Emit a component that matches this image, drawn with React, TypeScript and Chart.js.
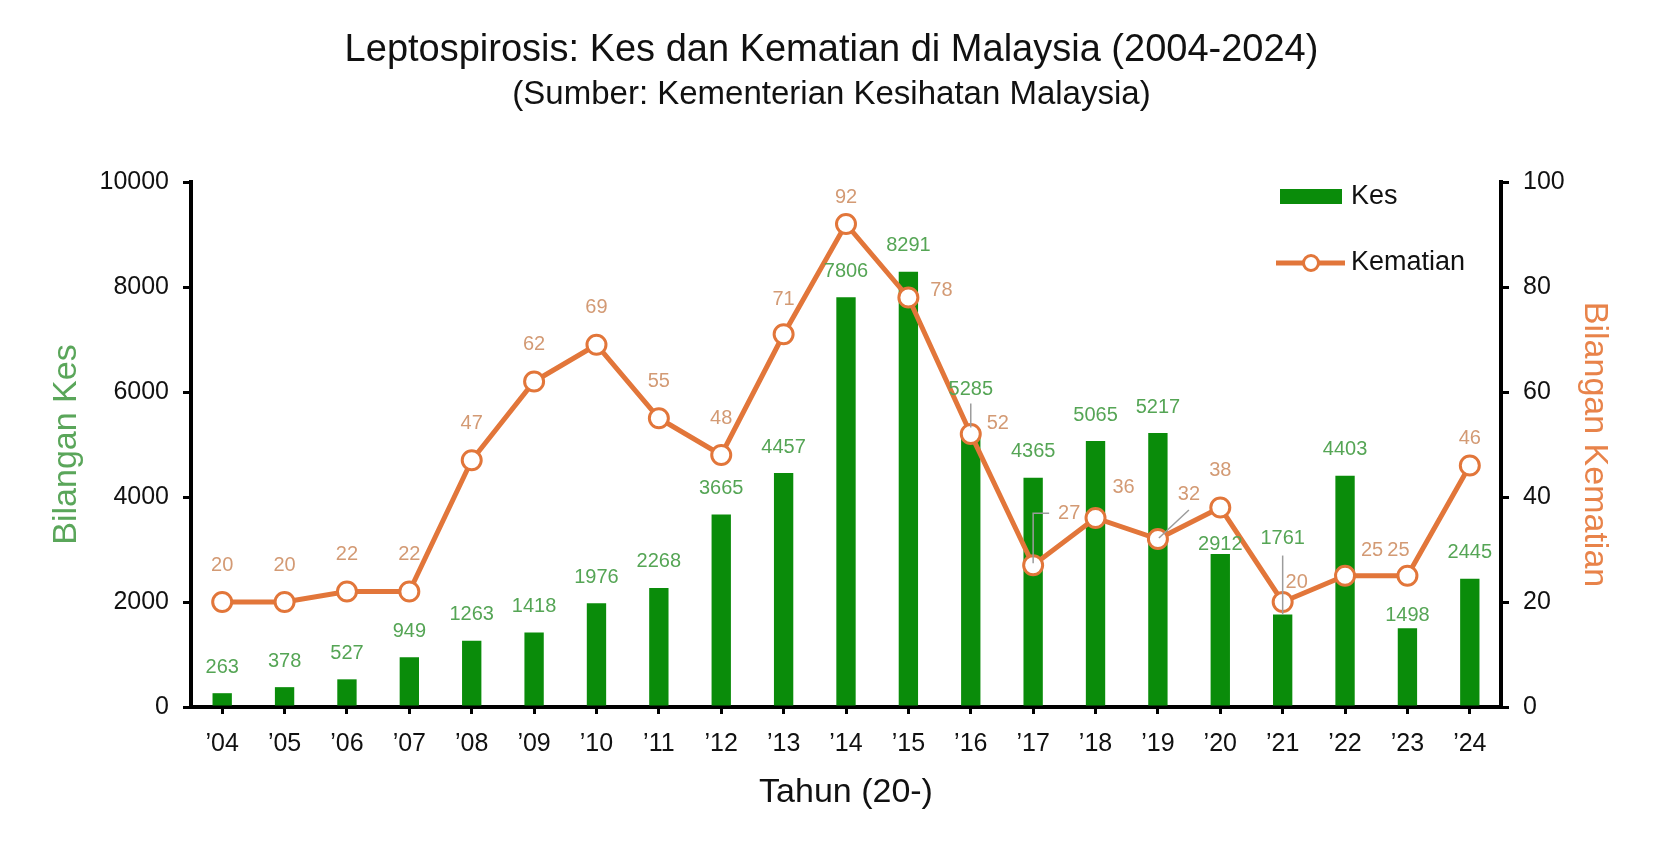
import { useEffect, useRef } from 'react';
import { Chart, registerables } from 'chart.js';

Chart.register(...registerables);

const FONT = "'Liberation Sans', Arial, sans-serif";

const years = ['’04', '’05', '’06', '’07', '’08', '’09', '’10', '’11', '’12', '’13', '’14', '’15', '’16', '’17', '’18', '’19', '’20', '’21', '’22', '’23', '’24'];
const cases = [263, 378, 527, 949, 1263, 1418, 1976, 2268, 3665, 4457, 7806, 8291, 5285, 4365, 5065, 5217, 2912, 1761, 4403, 1498, 2445];
const deaths = [20, 20, 22, 22, 47, 62, 69, 55, 48, 71, 92, 78, 52, 27, 36, 32, 38, 20, 25, 25, 46];

const caseMax = 10000;
const caseStep = 2000;
const deathMax = 100;
const deathStep = 20;

const GREEN = '#0a8c0a';
const GREEN_LABEL = '#55a555';
const ORANGE = '#e2763a';
const ORANGE_LABEL = '#d39a74';
const LEADER = '#9c9c9c';

// label offsets (px) from bar top / point centre, where they differ from the default
const caseLabelShift: Record<number, [number, number]> = {
  12: [0, -40],
  16: [0, -10],
  17: [0, -76],
  19: [0, -13],
};
const deathLabelShift: Record<number, [number, number]> = {
  9: [0, -35],
  10: [0, -27],
  11: [33, -7],
  12: [27, -11],
  13: [36, -52],
  14: [28, -31],
  15: [31, -45],
  17: [14, -20],
  18: [27, -25],
  19: [-9, -25],
  20: [0, -27],
};

const labelPlugin = {
  id: 'valueLabels',
  afterDatasetsDraw(chart: any) {
    const ctx = chart.ctx;
    const bars = chart.getDatasetMeta(0).data;
    const pts = chart.getDatasetMeta(1).data;

    const casePos = (i: number) => {
      const [dx, dy] = caseLabelShift[i] || [0, -26];
      return { x: bars[i].x + dx, y: bars[i].y + dy };
    };
    const deathPos = (i: number) => {
      const [dx, dy] = deathLabelShift[i] || [0, -37];
      return { x: pts[i].x + dx, y: pts[i].y + dy };
    };

    ctx.save();
    // leader lines
    ctx.strokeStyle = LEADER;
    ctx.lineWidth = 1.5;
    const seg = (pts2: [number, number][]) => {
      ctx.beginPath();
      pts2.forEach(([x, y], k) => (k ? ctx.lineTo(x, y) : ctx.moveTo(x, y)));
      ctx.stroke();
    };
    let l = casePos(12);
    seg([[bars[12].x, l.y + 14], [bars[12].x, bars[12].y - 2]]);
    l = casePos(17);
    seg([[bars[17].x, l.y + 17], [bars[17].x, bars[17].y]]);
    l = deathPos(13);
    seg([[l.x - 20, l.y], [pts[13].x, l.y], [pts[13].x, pts[13].y - 2]]);
    l = deathPos(15);
    seg([[l.x, l.y + 16], [pts[15].x + 1, pts[15].y - 1]]);

    ctx.font = `20px ${FONT}`;
    ctx.textAlign = 'center';
    ctx.textBaseline = 'middle';
    ctx.fillStyle = GREEN_LABEL;
    cases.forEach((v, i) => {
      const p = casePos(i);
      ctx.fillText(String(v), p.x, p.y);
    });
    ctx.fillStyle = ORANGE_LABEL;
    deaths.forEach((v, i) => {
      const p = deathPos(i);
      ctx.fillText(String(v), p.x, p.y);
    });
    ctx.restore();
  },
};

const decorPlugin = {
  id: 'decor',
  afterDraw(chart: any) {
    const ctx = chart.ctx;
    const area = chart.chartArea;
    ctx.save();
    ctx.fillStyle = '#111';
    ctx.textAlign = 'center';
    ctx.textBaseline = 'middle';
    ctx.font = `38px ${FONT}`;
    ctx.fillText('Leptospirosis: Kes dan Kematian di Malaysia (2004-2024)', chart.width / 2, 51);
    ctx.font = `33px ${FONT}`;
    ctx.fillText('(Sumber: Kementerian Kesihatan Malaysia)', chart.width / 2, 95);

    // legend
    const lx = area.right - 221;
    ctx.fillStyle = GREEN;
    ctx.fillRect(lx, area.top + 7, 62, 15);
    ctx.strokeStyle = ORANGE;
    ctx.lineWidth = 5;
    ctx.beginPath();
    ctx.moveTo(lx - 4, area.top + 81);
    ctx.lineTo(lx + 65, area.top + 81);
    ctx.stroke();
    ctx.beginPath();
    ctx.arc(lx + 31, area.top + 81, 7.5, 0, Math.PI * 2);
    ctx.fillStyle = '#fff';
    ctx.fill();
    ctx.lineWidth = 3;
    ctx.stroke();
    ctx.fillStyle = '#111';
    ctx.textAlign = 'left';
    ctx.font = `27px ${FONT}`;
    ctx.fillText('Kes', lx + 71, area.top + 15);
    ctx.fillText('Kematian', lx + 71, area.top + 81);
    ctx.restore();
  },
};

export default function App() {
  const canvasRef = useRef<HTMLCanvasElement>(null);
  const chartRef = useRef<Chart | null>(null);

  useEffect(() => {
    if (!canvasRef.current) return;
    if (chartRef.current) chartRef.current.destroy();

    const tickFont = { family: FONT, size: 25 };
    const axisGrid = { drawOnChartArea: false, drawTicks: true, tickLength: 8, color: '#000', lineWidth: 3 };
    const plain = (v: any) => String(v);

    chartRef.current = new Chart(canvasRef.current, {
      type: 'bar',
      data: {
        labels: years,
        datasets: [
          {
            type: 'bar',
            label: 'Kes',
            data: cases,
            backgroundColor: GREEN,
            yAxisID: 'y',
            barPercentage: 0.31,
            categoryPercentage: 1,
            order: 1,
          },
          {
            type: 'line',
            label: 'Kematian',
            data: deaths,
            borderColor: ORANGE,
            borderWidth: 5,
            pointRadius: 9.5,
            pointBorderWidth: 3,
            pointBackgroundColor: '#fff',
            pointBorderColor: ORANGE,
            tension: 0,
            yAxisID: 'y1',
            order: 0,
          },
        ],
      } as any,
      plugins: [labelPlugin, decorPlugin],
      options: {
        animation: false,
        responsive: true,
        maintainAspectRatio: false,
        layout: { padding: { top: 182, left: 0, right: 0, bottom: 0 } },
        plugins: {
          legend: { display: false },
          tooltip: { enabled: false },
        },
        scales: {
          x: {
            offset: true,
            grid: { ...axisGrid, offset: false, tickLength: 7 },
            border: { display: true, color: '#000', width: 4 },
            ticks: { color: '#111', font: tickFont, padding: 15, maxRotation: 0, autoSkip: false },
            title: {
              display: true,
              text: 'Tahun (20-)',
              color: '#111',
              font: { family: FONT, size: 34 },
              padding: { top: 0, bottom: 28 },
            },
            afterFit: (s: any) => {
              s.height = 134;
            },
          },
          y: {
            position: 'left',
            min: 0,
            max: caseMax,
            grid: axisGrid,
            border: { display: true, color: '#000', width: 4 },
            ticks: { stepSize: caseStep, color: '#111', font: tickFont, padding: 14, callback: plain },
            title: {
              display: true,
              text: 'Bilangan Kes',
              color: '#5aa65a',
              font: { family: FONT, size: 34 },
              padding: { top: 46, bottom: 0 },
            },
            afterFit: (s: any) => {
              s.width = 191;
            },
          },
          y1: {
            position: 'right',
            min: 0,
            max: deathMax,
            grid: axisGrid,
            border: { display: true, color: '#000', width: 4 },
            ticks: { stepSize: deathStep, color: '#111', font: tickFont, padding: 14, callback: plain },
            title: {
              display: true,
              text: 'Bilangan Kematian',
              color: '#e8834a',
              font: { family: FONT, size: 34 },
              padding: { top: 48, bottom: 0 },
            },
            afterFit: (s: any) => {
              s.width = 162;
            },
          },
        },
      } as any,
    });

    return () => {
      if (chartRef.current) {
        chartRef.current.destroy();
        chartRef.current = null;
      }
    };
  }, []);

  return (
    <div style={{ position: 'fixed', left: 0, top: 0, width: '100vw', height: '100vh', background: '#fff' }}>
      <canvas ref={canvasRef}></canvas>
    </div>
  );
}
